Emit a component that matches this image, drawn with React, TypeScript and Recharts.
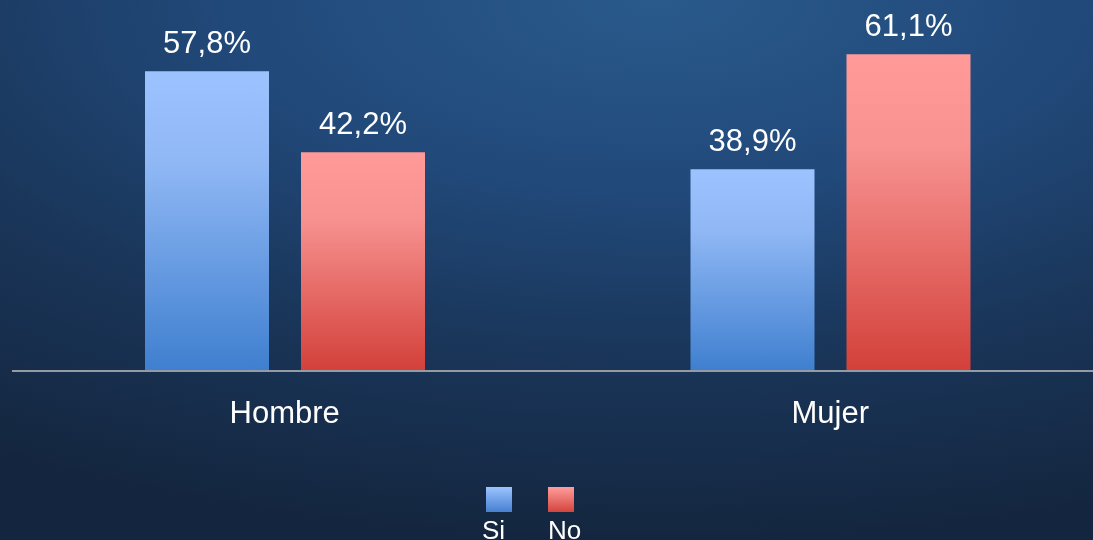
import { BarChart, Bar, XAxis, YAxis, Legend, LabelList } from "recharts";

const categories = ["Hombre", "Mujer"];
const siValues = [57.8, 38.9];
const noValues = [42.2, 61.1];
const seriesNames = ["Si", "No"];

const data = categories.map((name, i) => ({
  name,
  si: siValues[i],
  no: noValues[i],
}));

const FONT = "'Liberation Sans', Arial, sans-serif";

const fmt = (v: number) => `${v.toFixed(1).replace(".", ",")}%`;

const legendItems = [
  { label: seriesNames[0], from: "#9dc3ff", to: "#4580d0" },
  { label: seriesNames[1], from: "#ff9d9b", to: "#d4443d" },
];

function LegendContent() {
  return (
    <div style={{ display: "flex", gap: 36, fontFamily: FONT, color: "#fff", fontSize: 26 }}>
      {legendItems.map((it) => (
        <div key={it.label} style={{ display: "flex", flexDirection: "column", alignItems: "flex-start" }}>
          <div
            style={{
              width: 26,
              height: 25,
              marginLeft: it.label === "Si" ? 4 : 0,
              background: `linear-gradient(${it.from}, ${it.to})`,
            }}
          />
          <span style={{ marginTop: 3, lineHeight: "30px" }}>{it.label}</span>
        </div>
      ))}
    </div>
  );
}

export default function App() {
  return (
    <div
      style={{
        position: "fixed",
        left: 0,
        top: 0,
        width: 1093,
        height: 540,
        overflow: "hidden",
        background:
          "radial-gradient(ellipse 110% 100% at 60% 0%, #295a8b 0%, #21497a 35%, #1a365a 65%, #14263f 100%)",
      }}
    >
      <BarChart
        width={1103}
        height={540}
        data={data}
        margin={{ top: 8, right: 0, bottom: 109, left: 12 }}
        barSize={124}
        barGap={32}
      >
        <defs>
          <linearGradient id="gradSi" x1="0" y1="0" x2="0" y2="1">
            <stop offset="0%" stopColor="#9dc3ff" />
            <stop offset="30%" stopColor="#90b8f5" />
            <stop offset="100%" stopColor="#3f7fcf" />
          </linearGradient>
          <linearGradient id="gradNo" x1="0" y1="0" x2="0" y2="1">
            <stop offset="0%" stopColor="#ff9a98" />
            <stop offset="30%" stopColor="#f79290" />
            <stop offset="100%" stopColor="#d3403a" />
          </linearGradient>
        </defs>
        <XAxis
          dataKey="name"
          height={60}
          tickLine={false}
          tickSize={6}
          tickMargin={24}
          axisLine={{ stroke: "#959ba3", strokeWidth: 2 }}
          tick={{ fill: "#ffffff", fontSize: 31, fontFamily: FONT }}
        />
        <YAxis hide domain={[0, 70]} />
        <Legend
          layout="horizontal"
          verticalAlign="middle"
          content={<LegendContent />}
          wrapperStyle={{ top: 487, left: 482, width: 140 }}
        />
        <Bar dataKey="si" name={seriesNames[0]} fill="url(#gradSi)" isAnimationActive={false}>
          <LabelList
            dataKey="si"
            position="top"
            offset={18}
            formatter={(v: any) => fmt(Number(v))}
            style={{ fill: "#ffffff", fontSize: 31, fontFamily: FONT }}
          />
        </Bar>
        <Bar dataKey="no" name={seriesNames[1]} fill="url(#gradNo)" isAnimationActive={false}>
          <LabelList
            dataKey="no"
            position="top"
            offset={18}
            formatter={(v: any) => fmt(Number(v))}
            style={{ fill: "#ffffff", fontSize: 31, fontFamily: FONT }}
          />
        </Bar>
      </BarChart>
    </div>
  );
}
